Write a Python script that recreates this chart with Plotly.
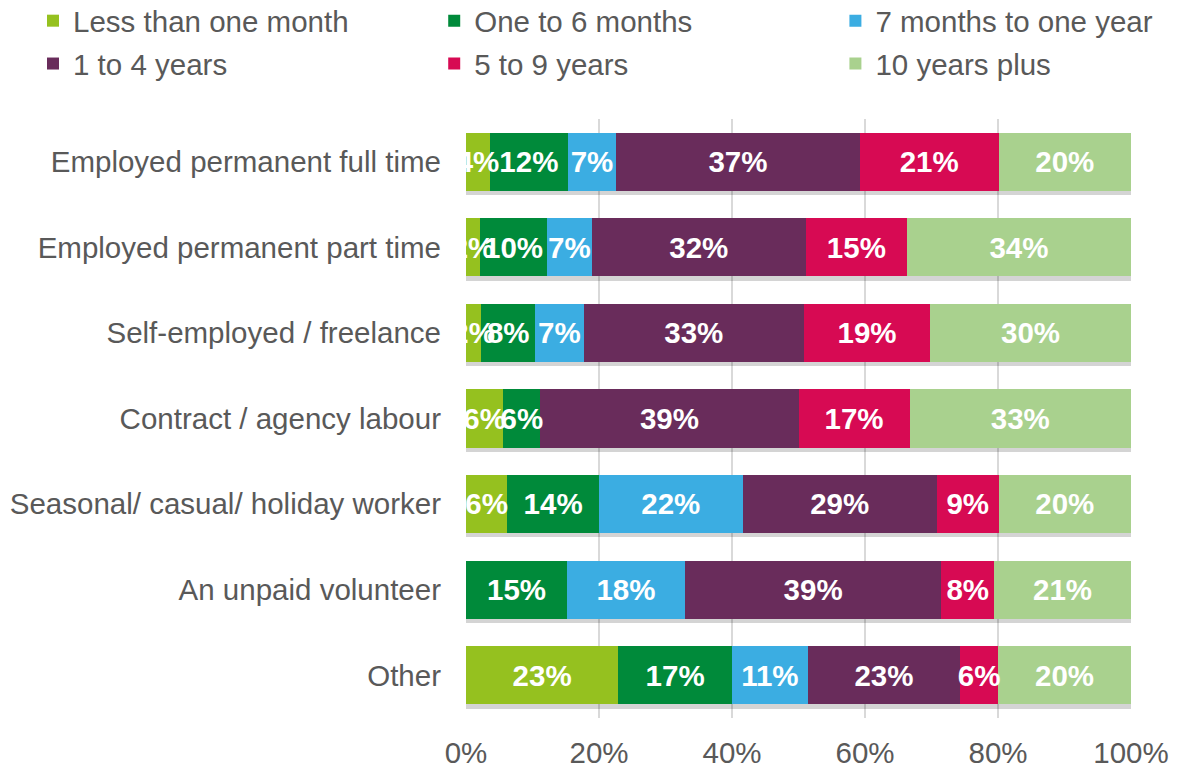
import plotly.graph_objects as go

# Categories (top to bottom) and the share (%) in each length-of-time band
categories = [
    "Employed permanent full time",
    "Employed permanent part time",
    "Self-employed / freelance",
    "Contract / agency labour",
    "Seasonal/ casual/ holiday worker",
    "An unpaid volunteer",
    "Other",
]
less_than_month = [3.6, 2.1, 2.3, 5.6, 6.2, None, 22.9]
one_to_6_months = [11.7, 10.1, 8.1, 5.6, 13.8, 15.2, 17.1]
seven_months_to_year = [7.3, 6.7, 7.3, None, 21.6, 17.7, 11.4]
one_to_4_years = [36.6, 32.2, 33.1, 38.8, 29.2, 38.6, 22.9]
five_to_9_years = [20.9, 15.2, 19.0, 16.7, 9.3, 7.9, 5.7]
ten_plus_years = [19.9, 33.7, 30.2, 33.3, 19.9, 20.6, 20.0]

x_ticks = [0, 20, 40, 60, 80, 100]
x_tick_labels = ["0%", "20%", "40%", "60%", "80%", "100%"]

series = [
    ("Less than one month", less_than_month, "#95C11F", "legend"),
    ("One to 6 months", one_to_6_months, "#008A3A", "legend2"),
    ("7 months to one year", seven_months_to_year, "#3BADE2", "legend3"),
    ("1 to 4 years", one_to_4_years, "#692C5B", "legend"),
    ("5 to 9 years", five_to_9_years, "#D70A53", "legend2"),
    ("10 years plus", ten_plus_years, "#A9D18E", "legend3"),
]

FONT = "Liberation Sans, Arial, sans-serif"
GREY = "#595959"
FS = 29.5
N = len(categories)

fig = go.Figure()

# soft drop shadow under each bar (drawn on a slightly shifted axis underneath)
totals = [sum(v[i] or 0 for _, v, _, _ in series) for i in range(N)]
fig.add_trace(go.Bar(
    y=categories, x=totals, orientation="h", yaxis="y",
    marker=dict(color="rgba(0,0,0,0.17)", line_width=0),
    showlegend=False, hoverinfo="skip",
))

for name, vals, color, leg in series:
    fig.add_trace(go.Bar(
        y=categories, x=vals, name=name, orientation="h", yaxis="y2",
        marker=dict(color=color, line_width=0),
        legend=leg, legendgroup=name, hoverinfo="x+name",
    ))

# value labels drawn on top of every bar (they overlap neighbours in the original)
left = [0.0] * N
for name, vals, color, leg in series:
    xs, ys, txt = [], [], []
    for i, v in enumerate(vals):
        if v is None:
            continue
        xs.append(left[i] + v / 2)
        ys.append(categories[i])
        txt.append(f"{v:.0f}%")
        left[i] += v
    fig.add_trace(go.Scatter(
        x=xs, y=ys, text=txt, mode="text", textposition="middle center", yaxis="y3",
        textfont=dict(family=FONT, size=FS, color="white", weight="bold"),
        showlegend=False, hoverinfo="skip",
    ))

legend_style = dict(
    orientation="v", yanchor="top", y=1.207, xanchor="left",
    font=dict(family=FONT, size=FS, color=GREY),
    tracegroupgap=1.5, bgcolor="rgba(0,0,0,0)", itemclick=False,
)

shadow_shift = 0.05  # shadow offset in category units (~4 px)
text_shift = 0.035   # labels sit a touch below the bar centre

# page body adds an 8px margin, so the figure is 1172x761 inside the window
fig.update_layout(
    barmode="stack",
    bargap=0.32,
    width=1172, height=761,
    margin=dict(l=458, r=49, t=111, b=51, autoexpand=False),
    paper_bgcolor="white", plot_bgcolor="white",
    font=dict(family=FONT, size=FS, color=GREY),
    legend=dict(legend_style, x=-0.6511),
    legend2=dict(legend_style, x=-0.0478),
    legend3=dict(legend_style, x=0.5555),
    xaxis=dict(
        range=[0, 100], tickvals=x_ticks, ticktext=x_tick_labels,
        showgrid=True, gridcolor="#D9D9D9", gridwidth=1.5,
        zeroline=False, ticks="", ticklabelstandoff=14, automargin=False,
        tickfont=dict(size=FS, color=GREY),
    ),
    yaxis=dict(
        type="category", categoryarray=categories,
        range=[N - 0.5 - shadow_shift, -0.5 - shadow_shift],
        showgrid=False, showticklabels=False, ticks="", automargin=False,
    ),
    yaxis2=dict(
        type="category", categoryarray=categories, overlaying="y", side="left",
        autorange="reversed", showgrid=False, ticks="", automargin=False,
        ticklabelstandoff=24, tickfont=dict(size=FS, color=GREY),
    ),
    yaxis3=dict(
        type="category", categoryarray=categories, overlaying="y",
        range=[N - 0.5 - text_shift, -0.5 - text_shift],
        showgrid=False, showticklabels=False, ticks="", automargin=False,
    ),
)

fig.write_html("out.html")
